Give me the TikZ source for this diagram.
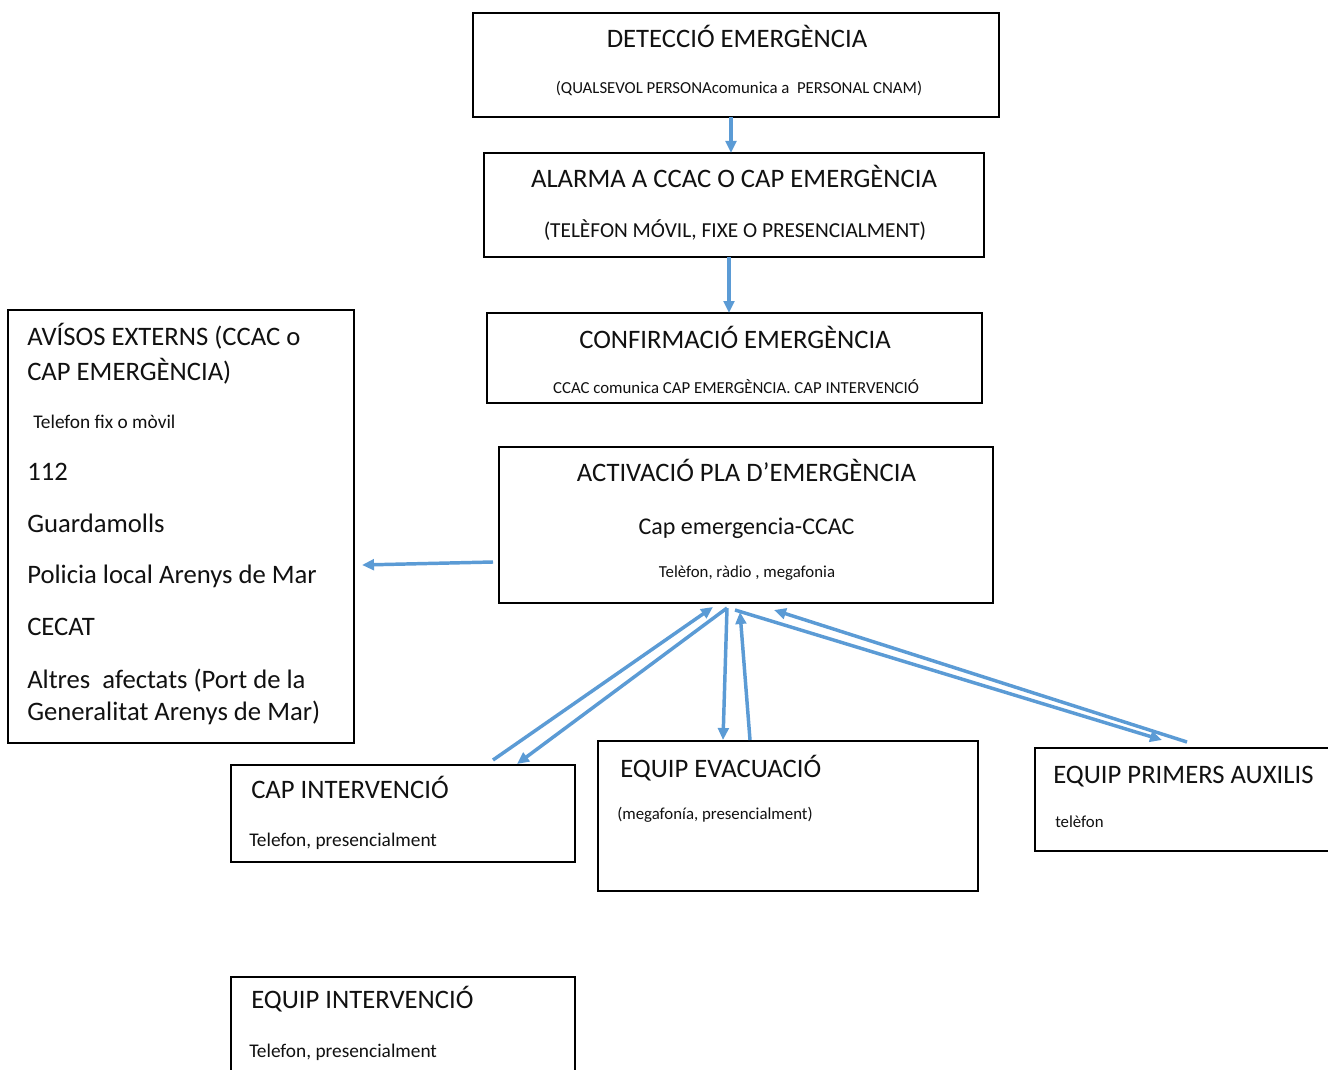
\documentclass[tikz,border=0pt]{standalone}
\usepackage{fontspec}
\setmainfont{Carlito}
\usetikzlibrary{arrows.meta,calc}
\definecolor{arrowblue}{HTML}{5B9BD5}
\definecolor{txt}{HTML}{111111}
\begin{document}
\begin{tikzpicture}[x=0.75pt,y=-0.75pt,
  box/.style={draw=black, line width=1.6pt, rectangle, inner sep=0pt, outer sep=0pt, anchor=north west},
  ttl/.style={font=\fontsize{20}{24}\selectfont, inner sep=0pt, text=txt},
  midA/.style={font=\fontsize{16}{19}\selectfont, inner sep=0pt, text=txt},
  midB/.style={font=\fontsize{18}{22}\selectfont, inner sep=0pt, text=txt},
  med/.style={font=\fontsize{14.5}{17}\selectfont, inner sep=0pt, text=txt},
  sml/.style={font=\fontsize{12.6}{15}\selectfont, inner sep=0pt, text=txt},
  arr/.style={draw=arrowblue, line width=2.6pt, -{Triangle[length=9pt,width=8pt]}}
]
\useasboundingbox (0,0) rectangle (1328,1070);
\fill[white] (0,0) rectangle (1328,1070);
\clip (0,0) rectangle (1328,1070);

% boxes
\node[box, minimum width=526*0.75pt, minimum height=104*0.75pt] (det) at (473,13) {};
\node[box, minimum width=500*0.75pt, minimum height=104*0.75pt] (ala) at (484,153) {};
\node[box, minimum width=495*0.75pt, minimum height=90*0.75pt] (conf) at (487,313) {};
\node[box, minimum width=494*0.75pt, minimum height=156*0.75pt] (act) at (499,447) {};
\node[box, minimum width=346*0.75pt, minimum height=433*0.75pt] (avis) at (8,310) {};
\node[box, minimum width=344*0.75pt, minimum height=97*0.75pt] (capint) at (231,765) {};
\node[box, minimum width=380*0.75pt, minimum height=150*0.75pt] (evac) at (598,741) {};
\node[box, minimum width=300*0.75pt, minimum height=103*0.75pt] (prim) at (1035,748) {};
\node[box, minimum width=344*0.75pt, minimum height=100*0.75pt] (eqint) at (231,977) {};

% texts
\node[ttl, anchor=base] (detT) at (737,48) {DETECCIÓ EMERGÈNCIA};
\node[sml, anchor=base] (detS) at (739,94) {(QUALSEVOL PERSONAcomunica a\ \ PERSONAL CNAM)};
\node[ttl, anchor=base] (alaT) at (734,188) {ALARMA A CCAC O CAP EMERGÈNCIA};
\node[midA, anchor=base] (alaS) at (735,238) {(TELÈFON MÓVIL, FIXE O PRESENCIALMENT)};
\node[ttl, anchor=base] (confT) at (735,348) {CONFIRMACIÓ EMERGÈNCIA};
\node[sml, anchor=base] (confS) at (736,393) {CCAC comunica CAP EMERGÈNCIA. CAP INTERVENCIÓ};
\node[ttl, anchor=base] (actT) at (746.5,481) {ACTIVACIÓ PLA D’EMERGÈNCIA};
\node[midB, anchor=base] (actS) at (746.5,534) {Cap emergencia-CCAC};
\node[sml, anchor=base] (actS2) at (747,577) {Telèfon, ràdio , megafonia};

\node[ttl, anchor=base west] (av1) at (27,345) {AVÍSOS EXTERNS (CCAC o};
\node[ttl, anchor=base west] (av2) at (27,380) {CAP EMERGÈNCIA)};
\node[med, anchor=base west] (av3) at (33,428) {Telefon fix o mòvil};
\node[ttl, anchor=base west] (av4) at (27,480) {112};
\node[ttl, anchor=base west] (av5) at (27,532) {Guardamolls};
\node[ttl, anchor=base west] (av6) at (27,583) {Policia local Arenys de Mar};
\node[ttl, anchor=base west] (av7) at (27,635) {CECAT};
\node[ttl, anchor=base west] (av8) at (27,688) {Altres\ \ afectats (Port de la};
\node[ttl, anchor=base west] (av9) at (27,720) {Generalitat Arenys de Mar)};

\node[ttl, anchor=base west] (capT) at (251,798) {CAP INTERVENCIÓ};
\node[med, anchor=base west] (capS) at (249,846) {Telefon, presencialment};
\node[ttl, anchor=base west] (evT) at (620,777) {EQUIP EVACUACIÓ};
\node[sml, anchor=base west] (evS) at (617,819) {(megafonía, presencialment)};
\node[ttl, anchor=base west] (prT) at (1053,783) {EQUIP PRIMERS AUXILIS};
\node[sml, anchor=base west] (prS) at (1055,827) {telèfon};
\node[ttl, anchor=base west] (eqT) at (251,1008) {EQUIP INTERVENCIÓ};
\node[med, anchor=base west] (eqS) at (249,1057) {Telefon, presencialment};

% connectors
\draw[arr] ($(det.south west)+(258,0)$) -- ($(ala.north west)+(247,0)$);
\draw[arr] ($(ala.south west)+(245,0)$) -- ($(conf.north west)+(242,0)$);
\draw[arr] ($(act.north west)+(-6,115)$) -- ($(avis.north east)+(8,255)$);

\coordinate (apex) at ($(act.south west)+(228,5)$);
\draw[arr] ($(capint.north west)+(262,-5)$) -- ($(act.south west)+(214,4)$);
\draw[arr] (apex) -- ($(capint.north west)+(286,-1)$);
\draw[arr] (apex) -- ($(evac.north west)+(125,-1)$);
\draw[arr] ($(evac.north west)+(152,-1)$) -- ($(act.south west)+(241,9)$);
\draw[arr] ($(act.south west)+(236,7)$) -- ($(prim.north west)+(127,-8)$);
\draw[arr] ($(prim.north west)+(152,-6)$) -- ($(act.south west)+(275,7)$);
\end{tikzpicture}
\end{document}
